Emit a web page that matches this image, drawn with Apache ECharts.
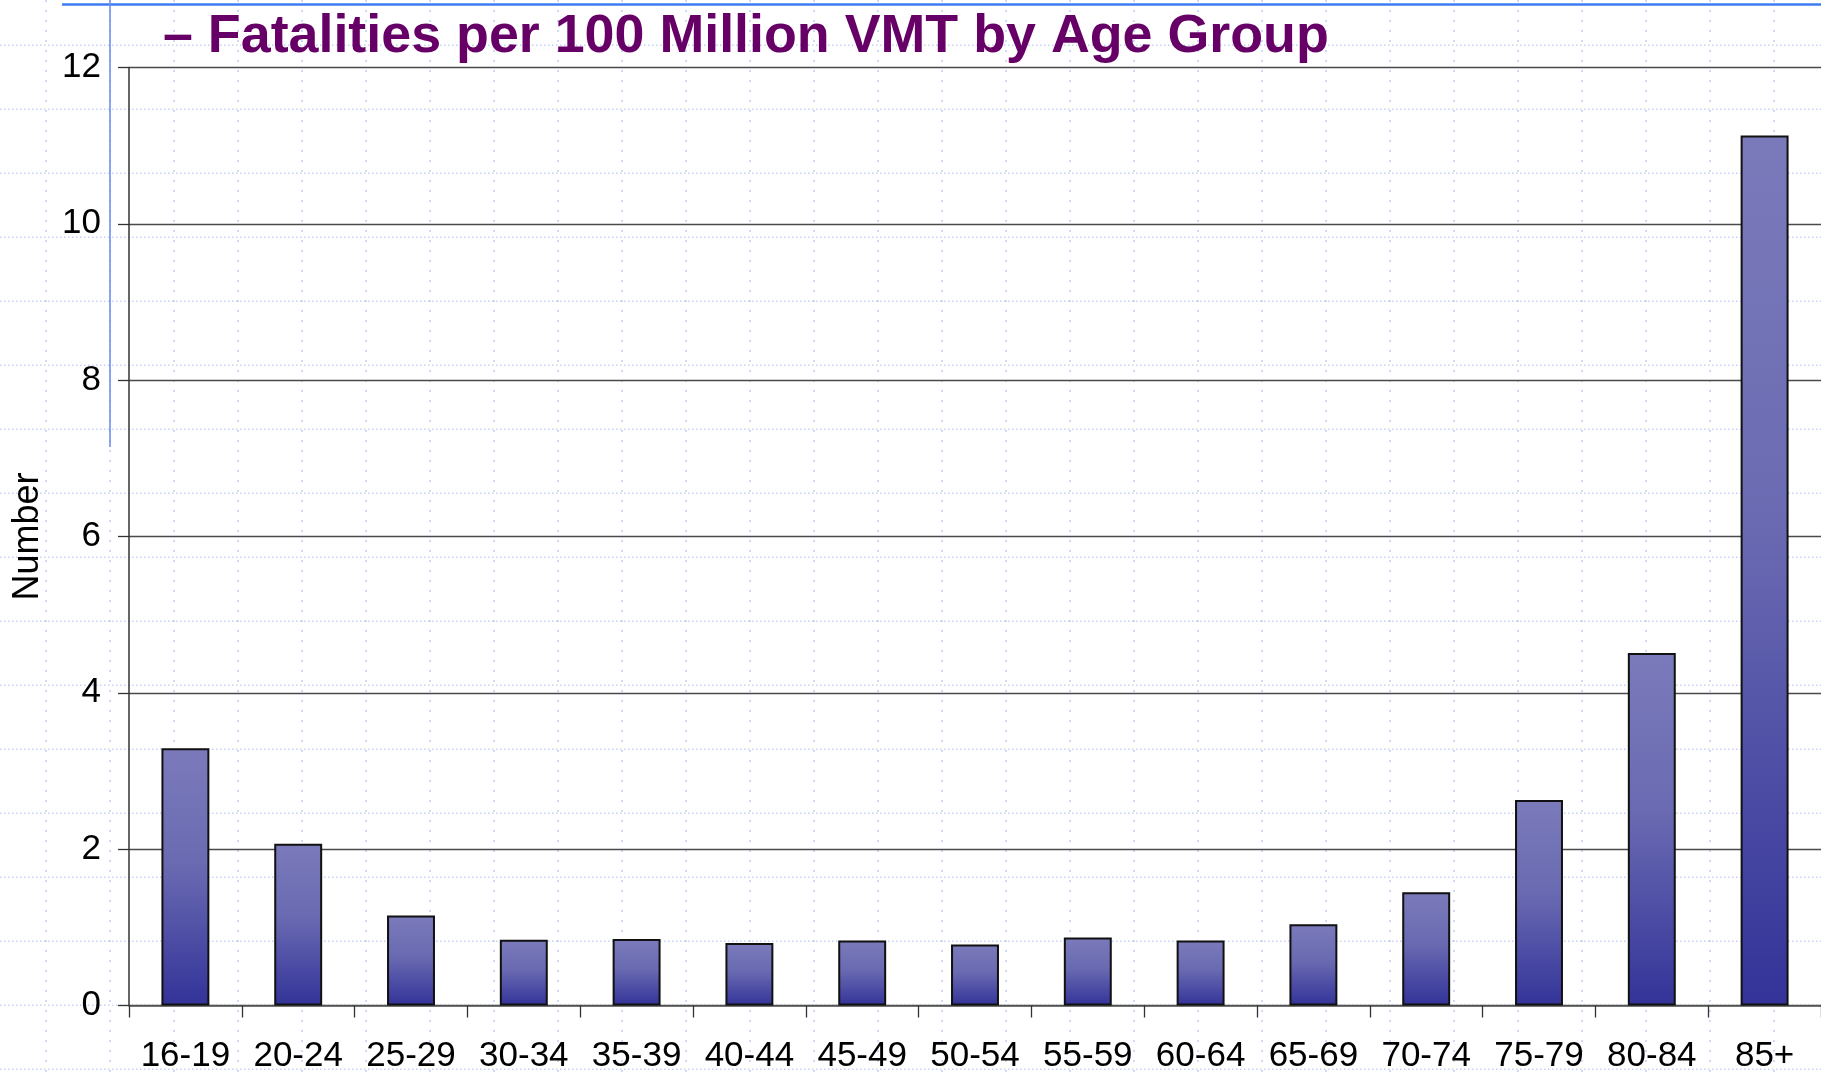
<!DOCTYPE html>
<html>
<head>
<meta charset="utf-8">
<script src="https://cdn.jsdelivr.net/npm/echarts@6/dist/echarts.min.js"></script>
<style>
  html, body { margin: 0; padding: 0; background: #ffffff; }
  #chart { width: 1821px; height: 1073px; }
</style>
</head>
<body>
<div id="chart"></div>
<script>
const ageGroups = ['16-19', '20-24', '25-29', '30-34', '35-39', '40-44', '45-49', '50-54',
  '55-59', '60-64', '65-69', '70-74', '75-79', '80-84', '85+'];
const fatalityRates = [3.29, 2.07, 1.15, 0.84, 0.85, 0.80, 0.83, 0.78, 0.87, 0.83, 1.04, 1.45, 2.63, 4.51, 11.13];
const yTicks = [0, 2, 4, 6, 8, 10, 12];

const chart = echarts.init(document.getElementById('chart'));

// slide background: light blue dotted guide grid and blue rule lines
const guides = [];
for (let y = 45.3; y < 1073; y += 64) {
  guides.push({
    type: 'line', z: -100, silent: true,
    shape: { x1: 0, y1: y, x2: 1821, y2: y },
    style: { stroke: '#c2d2f4', lineWidth: 1.6, lineDash: [1.5, 2.5] }
  });
}
for (let x = 46; x < 1821; x += 64) {
  guides.push({
    type: 'line', z: -100, silent: true,
    shape: { x1: x, y1: 0, x2: x, y2: 1073 },
    style: { stroke: '#c2d2f4', lineWidth: 1.6, lineDash: [2, 8] }
  });
}
guides.push({
  type: 'line', z: -50, silent: true,
  shape: { x1: 62, y1: 4.5, x2: 1821, y2: 4.5 },
  style: { stroke: '#3d7cf0', lineWidth: 2.5 }
});
guides.push({
  type: 'line', z: -50, silent: true,
  shape: { x1: 110, y1: 0, x2: 110, y2: 447 },
  style: { stroke: '#6f8ff0', lineWidth: 1.6 }
});

chart.setOption({
  animation: false,
  backgroundColor: '#ffffff',
  textStyle: { fontFamily: 'Liberation Sans, Arial, sans-serif' },
  title: {
    text: '\u2013 Fatalities per 100 Million VMT by Age Group',
    left: 163,
    top: 10,
    padding: 0,
    textStyle: {
      color: '#660066',
      fontSize: 53.8,
      fontWeight: 'bold',
      fontFamily: 'Liberation Sans, Arial, sans-serif'
    }
  },
  graphic: { elements: guides },
  grid: {
    left: 129, right: 0, top: 67.4, bottom: 67.5,
    containLabel: false,
    outerBoundsMode: 'none'
  },
  xAxis: {
    type: 'category',
    data: ageGroups,
    axisLine: { lineStyle: { color: '#555555', width: 1.5 } },
    axisTick: { show: true, length: 12, lineStyle: { color: '#333333', width: 1.3 } },
    axisLabel: { color: '#000000', fontSize: 35, margin: 33, interval: 0 },
    splitLine: { show: false }
  },
  yAxis: {
    type: 'value',
    min: yTicks[0],
    max: yTicks[yTicks.length - 1],
    interval: 2,
    name: 'Number',
    nameLocation: 'middle',
    nameGap: 83,
    nameRotate: 90,
    nameTextStyle: { color: '#000000', fontSize: 36 },
    axisLine: { show: true, lineStyle: { color: '#333333', width: 1.5 } },
    axisTick: { show: true, length: 11, lineStyle: { color: '#333333', width: 1.3 } },
    axisLabel: { color: '#000000', fontSize: 35, margin: 28 },
    splitLine: { show: true, lineStyle: { color: '#4a4a4a', width: 1.3 } }
  },
  series: [
    {
      type: 'bar',
      data: fatalityRates,
      barWidth: '42.5%',
      itemStyle: {
        color: new echarts.graphic.LinearGradient(0, 0, 0, 1, [
          { offset: 0, color: '#7a7abb' },
          { offset: 0.45, color: '#6a6ab2' },
          { offset: 1, color: '#333399' }
        ]),
        borderColor: '#111111',
        borderWidth: 2
      }
    }
  ]
});
</script>
</body>
</html>
